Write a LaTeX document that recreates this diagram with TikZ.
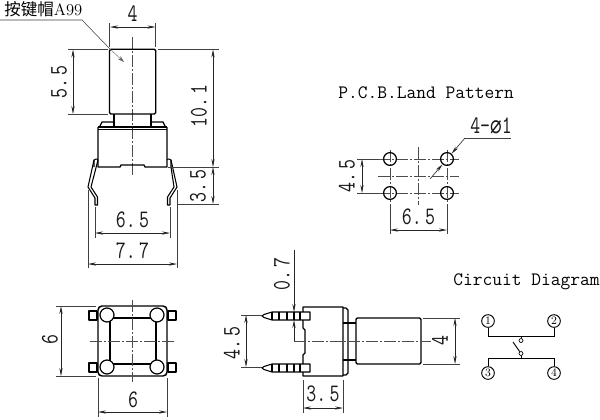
\documentclass[tikz,border=0pt]{standalone}
\usepackage{fontspec}
\usepackage{graphicx}
\newfontfamily\cjkf{Noto Sans CJK SC}[Scale=1]
\newfontfamily\symf{DejaVu Sans}
\usetikzlibrary{arrows.meta}
\newcommand{\dimtext}[1]{\scalebox{1}[1.3]{\fontsize{14.5}{14.5}\selectfont\ttfamily #1}}
\tikzset{
  x=0.75pt,y=-0.75pt,
  outline/.style={line width=1pt,black,line join=round},
  thinl/.style={line width=0.4pt,black!75},
  dimline/.style={line width=0.45pt,black!85,{Stealth[length=6pt,width=2.4pt]}-{Stealth[length=6pt,width=2.4pt]}},
  oneway/.style={line width=0.45pt,black!85,-{Stealth[length=6pt,width=2.4pt]}},
  centre/.style={line width=0.4pt,black!70,dash pattern=on 9pt off 1.5pt on 1.5pt off 1.5pt},
  dimlabel/.style={inner sep=0pt,text=black!90},
  title/.style={inner sep=0pt,font=\fontsize{14.2}{14.2}\selectfont\ttfamily},
  pinnum/.style={circle,draw,line width=0.7pt,minimum size=9.5pt,inner sep=0pt,fill=white,font=\fontsize{8.5}{8.5}\selectfont},
  smallc/.style={circle,draw,line width=0.5pt,minimum size=3pt,inner sep=0pt,fill=white},
}
\begin{document}
\begin{tikzpicture}
\useasboundingbox (0,0) rectangle (600,419);
\fill[white] (0,0) rectangle (600,419);

% ---------- front view ----------
\draw[centre] (132.5,37) -- (132.5,176);
\draw[outline,rounded corners=1pt] (109.5,114) -- (109.5,49.3) -- (155.7,49.3) -- (155.7,114) -- cycle;
\draw[outline] (114,114) -- (114,126) (151,114) -- (151,126);
\draw[outline] (100,126) -- (102,122) -- (113,122) (165,126) -- (163,122) -- (152,122);
\draw[outline] (98,127) -- (167,127);
\draw[outline] (98,129.5) -- (167,129.5);
\draw[outline] (98,127) -- (98,167) -- (120,167) -- (121,165) -- (144,165) -- (145,167) -- (167,167) -- (167,127);
% legs
\draw[outline,line width=0.8pt] (94,167) -- (94,160) -- (96,159) -- (98,159.5);
\draw[outline,line width=0.8pt] (94,160) -- (88,187) -- (95,198) -- (95,205) -- (97.5,205) -- (97.5,197) -- (91,187) -- (98,160);
\draw[outline,line width=0.8pt] (171,167) -- (171,160) -- (169,159) -- (167,159.5);
\draw[outline,line width=0.8pt] (171,160) -- (177,187) -- (170,198) -- (170,205) -- (167.5,205) -- (167.5,197) -- (174,187) -- (171,167);
% dimensions
\draw[thinl] (109.5,23) -- (109.5,47) (155.7,23) -- (155.7,47);
\draw[dimline] (110,27) -- (155.5,27);
\node[dimlabel] (d4) at (132.5,14) {\dimtext{4}};
\draw[thinl] (68,49.3) -- (108,49.3) (68,114) -- (108,114);
\draw[dimline] (73,49.5) -- (73,114);
\node[dimlabel,rotate=90] (d55) at (59,82) {\dimtext{5.\,5}};
\draw[thinl] (158,49.3) -- (219,49.3) (168,167) -- (219,167) (177,204) -- (219,204);
\draw[dimline] (213,49.5) -- (213,167);
\draw[dimline] (213,167) -- (213,204);
\node[dimlabel,rotate=90] (d101) at (199,106) {\dimtext{10.\,1}};
\node[dimlabel,rotate=90] (d35) at (198,186) {\dimtext{3.\,5}};
\draw[thinl] (95,207) -- (95,238) (170,207) -- (170,238);
\draw[dimline] (95,233) -- (170,233);
\node[dimlabel] (d65) at (132.5,220) {\dimtext{6.\,5}};
\draw[thinl] (88,190) -- (88,268) (177,190) -- (177,268);
\draw[dimline] (88,264) -- (177,264);
\node[dimlabel] (d77) at (132.5,251) {\dimtext{7.\,7}};
% cap label
\node[inner sep=0pt,anchor=west] (caplabel) at (4,9.5) {\fontsize{12.4}{12.4}\selectfont{\cjkf 按键帽}{\rmfamily A99}};
\draw[thinl] (0,20) -- (82,20) -- (110,49);
\draw[line width=0.3pt,black!60,-{Stealth[length=5pt,width=3pt]}] (110,49) -- (124,62);

% ---------- land pattern ----------
\node[title,anchor=west] (lp) at (338,93) {P.C.B.Land Pattern};
\draw[centre] (378,159) -- (459,159);
\draw[centre] (378,176) -- (459,176);
\draw[centre] (378,193) -- (459,193);
\draw[centre] (418,147) -- (418,205);
\draw[centre] (447,150) -- (447,205);
\draw[centre] (390,150) -- (390,205);
\draw[thinl] (390,205) -- (390,234) (447,205) -- (447,234);
\foreach \n/\a/\b in {a/390/159,b/447/159,c/390/193,d/447/193}
  \node[circle,draw,line width=0.9pt,minimum size=9.6pt,inner sep=0pt] (h\n) at (\a,\b) {};
\draw[dimline] (390,230) -- (447,230);
\node[dimlabel] (lp65) at (418.5,217) {\dimtext{6.\,5}};
\draw[thinl] (357,159) -- (378,159) (357,193) -- (378,193);
\draw[dimline] (362,159) -- (362,193);
\node[dimlabel,rotate=90] (lp45) at (347,176) {\dimtext{4.\,5}};
\node[dimlabel,anchor=west] (dia) at (470,125.5) {\dimtext{4-{\symf ⌀}1}};
\coordinate (lead1) at (511,138);
\coordinate (lead2) at (465,138);
\coordinate (lead3) at (430,179);
\draw[thinl] (lead1) -- (lead2);
\draw[oneway] (lead2) -- (hb);
\draw[oneway] (lead3) -- (hb);

% ---------- top view ----------
\draw[outline,line width=0.8pt,fill=white] (89,311) rectangle (97,320);
\draw[outline,line width=0.8pt,fill=white] (89,363) rectangle (97,372);
\draw[outline,line width=0.8pt,fill=white] (168,311) rectangle (176,320);
\draw[outline,line width=0.8pt,fill=white] (168,363) rectangle (176,372);
\draw[outline,line width=1.1pt,rounded corners=3pt] (98,306) rectangle (167,376);
\draw[outline] (110,318) rectangle (156,364);
\foreach \n/\a/\b in {p/107/315,q/157/315,r/107/367,s/157/367}
  \node[circle,draw,line width=0.9pt,minimum size=10.5pt,inner sep=0pt,fill=white] (k\n) at (\a,\b) {};
\draw[centre] (90,341) -- (176,341);
\draw[centre] (132.5,300) -- (132.5,382);
\draw[thinl] (56,306) -- (96,306) (56,376) -- (96,376);
\draw[dimline] (61,306) -- (61,376);
\node[dimlabel,rotate=90] (tv6a) at (50,340) {\dimtext{6}};
\draw[thinl] (98,378) -- (98,417) (167,378) -- (167,417);
\draw[dimline] (98,412) -- (167,412);
\node[dimlabel] (tv6b) at (133,400) {\dimtext{6}};

% ---------- side view ----------
\draw[outline] (305,307) -- (343,307) -- (343,376) -- (303,376) -- (303,355) -- (305,353) -- (305,330) -- (303,328) -- (303,307) -- cycle;
\draw[outline] (343,308) -- (346,308) -- (348,310) -- (348,373) -- (346,375) -- (343,375);
\draw[outline] (343,323) -- (348,323) (343,360) -- (348,360);
\draw[outline] (348,323) -- (356,323) (348,360) -- (356,360);
\draw[outline,rounded corners=1pt] (356,318) -- (421,318) -- (421,364) -- (356,364) -- cycle;
\foreach \y/\t in {312/316,364/368}{
  \draw[outline,line width=0.8pt,fill=white] (310,\y) -- (272,\y) -- (264,{\t-1.5}) -- (262,\t) -- (264,{\t+1.5}) -- (272,{\y+8}) -- (310,{\y+8}) -- cycle;
  \foreach \x in {272,279,287,294,300}
    \draw[outline,line width=0.8pt] (\x,\y) -- (\x,{\y+8});
}
\draw[centre] (294,341) -- (433,341);
\draw[oneway] (294,250) -- (294,312);
\draw[oneway] (294,341) -- (294,320);
\node[dimlabel,rotate=90] (sv07) at (282,274) {\dimtext{0.\,7}};
\draw[thinl] (241,315) -- (262,315) (241,367) -- (262,367);
\draw[dimline] (246,315) -- (246,367);
\node[dimlabel,rotate=90] (sv45) at (232,343) {\dimtext{4.\,5}};
\draw[thinl] (303,380) -- (303,413) (343,380) -- (343,413);
\draw[dimline] (303,408) -- (343,408);
\node[dimlabel] (sv35) at (323,394) {\dimtext{3.\,5}};
\draw[thinl] (423,318) -- (460,318) (423,364) -- (460,364);
\draw[dimline] (455,318) -- (455,364);
\node[dimlabel,rotate=90,fill=white,inner sep=0.5pt] (sv4) at (440,341) {\dimtext{4}};

% ---------- circuit ----------
\node[title,anchor=west] (cd) at (453,282) {Circuit Diagram};
\node[pinnum] (n1) at (488,321) {1};
\node[pinnum] (n2) at (554,321) {2};
\node[pinnum] (n3) at (488,373) {3};
\node[pinnum] (n4) at (554,373) {4};
\coordinate (ua) at (488,336);
\coordinate (ub) at (554,336);
\coordinate (la) at (488,358);
\coordinate (lb) at (554,358);
\coordinate (um) at (521,336);
\coordinate (lm) at (521,358);
\coordinate (lever) at (513,342);
\node[smallc] (su) at (521,340.5) {};
\node[smallc] (sl) at (521,353.5) {};
\draw[line width=0.7pt] (n1) -- (ua) -- (ub) -- (n2);
\draw[line width=0.7pt] (n3) -- (la) -- (lb) -- (n4);
\draw[line width=0.5pt] (um) -- (su);
\draw[line width=0.5pt] (lm) -- (sl);
\draw[line width=0.7pt] (sl) -- (lever);
\end{tikzpicture}
\end{document}
